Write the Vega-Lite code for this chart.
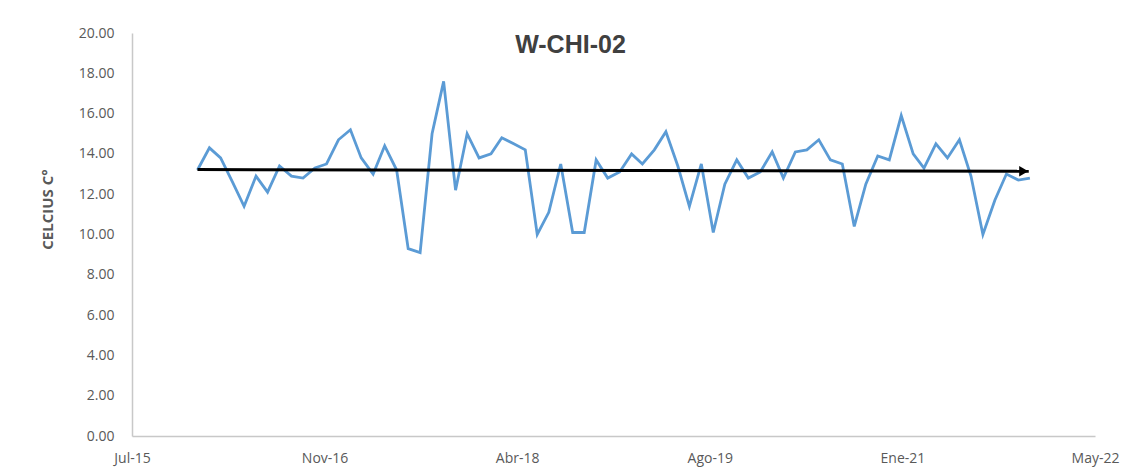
{
  "$schema": "https://vega.github.io/schema/vega-lite/v6.json",
  "autosize": "none",
  "width": 963,
  "height": 403,
  "padding": {"left": 132, "top": 33, "right": 53, "bottom": 35},
  "background": "white",
  "title": {
    "text": "W-CHI-02",
    "font": "Liberation Sans",
    "fontSize": 25,
    "fontWeight": "bold",
    "color": "#404040",
    "frame": "group",
    "anchor": "middle",
    "baseline": "bottom",
    "offset": -57,
    "dx": -43
  },
  "config": {
    "view": {"stroke": null},
    "axis": {
      "grid": false,
      "ticks": false,
      "labelFont": "Open Sans",
      "labelFontSize": 14,
      "labelColor": "#595959",
      "domainColor": "#C8C8C8",
      "domainWidth": 1.5
    }
  },
  "datasets": {
    "temps": [
      {"fecha": "2016-01-01", "temp": 13.2},
      {"fecha": "2016-02-01", "temp": 14.3},
      {"fecha": "2016-03-01", "temp": 13.8},
      {"fecha": "2016-04-01", "temp": 12.6},
      {"fecha": "2016-05-01", "temp": 11.4},
      {"fecha": "2016-06-01", "temp": 12.9},
      {"fecha": "2016-07-01", "temp": 12.1},
      {"fecha": "2016-08-01", "temp": 13.4},
      {"fecha": "2016-09-01", "temp": 12.9},
      {"fecha": "2016-10-01", "temp": 12.8},
      {"fecha": "2016-11-01", "temp": 13.3},
      {"fecha": "2016-12-01", "temp": 13.5},
      {"fecha": "2017-01-01", "temp": 14.7},
      {"fecha": "2017-02-01", "temp": 15.2},
      {"fecha": "2017-03-01", "temp": 13.8},
      {"fecha": "2017-04-01", "temp": 13.0},
      {"fecha": "2017-05-01", "temp": 14.4},
      {"fecha": "2017-06-01", "temp": 13.2},
      {"fecha": "2017-07-01", "temp": 9.3},
      {"fecha": "2017-08-01", "temp": 9.1},
      {"fecha": "2017-09-01", "temp": 15.0},
      {"fecha": "2017-10-01", "temp": 17.6},
      {"fecha": "2017-11-01", "temp": 12.2},
      {"fecha": "2017-12-01", "temp": 15.0},
      {"fecha": "2018-01-01", "temp": 13.8},
      {"fecha": "2018-02-01", "temp": 14.0},
      {"fecha": "2018-03-01", "temp": 14.8},
      {"fecha": "2018-04-01", "temp": 14.5},
      {"fecha": "2018-05-01", "temp": 14.2},
      {"fecha": "2018-06-01", "temp": 10.0},
      {"fecha": "2018-07-01", "temp": 11.1},
      {"fecha": "2018-08-01", "temp": 13.5},
      {"fecha": "2018-09-01", "temp": 10.1},
      {"fecha": "2018-10-01", "temp": 10.1},
      {"fecha": "2018-11-01", "temp": 13.7},
      {"fecha": "2018-12-01", "temp": 12.8},
      {"fecha": "2019-01-01", "temp": 13.1},
      {"fecha": "2019-02-01", "temp": 14.0},
      {"fecha": "2019-03-01", "temp": 13.5},
      {"fecha": "2019-04-01", "temp": 14.2},
      {"fecha": "2019-05-01", "temp": 15.1},
      {"fecha": "2019-06-01", "temp": 13.4},
      {"fecha": "2019-07-01", "temp": 11.4},
      {"fecha": "2019-08-01", "temp": 13.5},
      {"fecha": "2019-09-01", "temp": 10.1},
      {"fecha": "2019-10-01", "temp": 12.5},
      {"fecha": "2019-11-01", "temp": 13.7},
      {"fecha": "2019-12-01", "temp": 12.8},
      {"fecha": "2020-01-01", "temp": 13.1},
      {"fecha": "2020-02-01", "temp": 14.1},
      {"fecha": "2020-03-01", "temp": 12.8},
      {"fecha": "2020-04-01", "temp": 14.1},
      {"fecha": "2020-05-01", "temp": 14.2},
      {"fecha": "2020-06-01", "temp": 14.7},
      {"fecha": "2020-07-01", "temp": 13.7},
      {"fecha": "2020-08-01", "temp": 13.5},
      {"fecha": "2020-09-01", "temp": 10.4},
      {"fecha": "2020-10-01", "temp": 12.5},
      {"fecha": "2020-11-01", "temp": 13.9},
      {"fecha": "2020-12-01", "temp": 13.7},
      {"fecha": "2021-01-01", "temp": 15.9},
      {"fecha": "2021-02-01", "temp": 14.0},
      {"fecha": "2021-03-01", "temp": 13.3},
      {"fecha": "2021-04-01", "temp": 14.5},
      {"fecha": "2021-05-01", "temp": 13.8},
      {"fecha": "2021-06-01", "temp": 14.7},
      {"fecha": "2021-07-01", "temp": 12.9},
      {"fecha": "2021-08-01", "temp": 10.0},
      {"fecha": "2021-09-01", "temp": 11.7},
      {"fecha": "2021-10-01", "temp": 13.0},
      {"fecha": "2021-11-01", "temp": 12.7},
      {"fecha": "2021-12-01", "temp": 12.8}
    ],
    "tendencia": [
      {"fecha": "2016-01-01", "temp": 13.22, "punta": false},
      {"fecha": "2021-11-28", "temp": 13.14, "punta": true}
    ]
  },
  "encoding": {
    "x": {
      "field": "fecha",
      "type": "temporal",
      "scale": {
        "type": "utc",
        "domain": [
          {"year": 2015, "month": 7, "date": 15, "utc": true},
          {"year": 2022, "month": 5, "date": 19, "utc": true}
        ]
      },
      "axis": {
        "title": null,
        "labelPadding": 15,
        "values": [
          {"year": 2015, "month": 7, "date": 15, "utc": true},
          {"year": 2016, "month": 11, "date": 26, "utc": true},
          {"year": 2018, "month": 4, "date": 10, "utc": true},
          {"year": 2019, "month": 8, "date": 23, "utc": true},
          {"year": 2021, "month": 1, "date": 4, "utc": true},
          {"year": 2022, "month": 5, "date": 19, "utc": true}
        ],
        "labelExpr": "['Ene','Feb','Mar','Abr','May','Jun','Jul','Ago','Sep','Oct','Nov','Dic'][utcmonth(datum.value)] + '-' + utcFormat(datum.value, '%y')",
        "labelFlush": false,
        "labelOverlap": false
      }
    },
    "y": {
      "field": "temp",
      "type": "quantitative",
      "scale": {"domain": [0, 20], "nice": false, "zero": true},
      "axis": {
        "title": "CELCIUS C°",
        "titleFont": "Open Sans",
        "titleFontSize": 15,
        "titleFontWeight": "bold",
        "titleColor": "#595959",
        "titleAngle": -90,
        "titleX": -85,
        "titleY": 176,
        "titleAlign": "center",
        "titleBaseline": "middle",
        "values": [0, 2, 4, 6, 8, 10, 12, 14, 16, 18, 20],
        "format": ".2f",
        "labelPadding": 18
      }
    }
  },
  "layer": [
    {
      "data": {"name": "temps"},
      "mark": {"type": "line", "color": "#5B9BD5", "strokeWidth": 2.8, "strokeJoin": "miter"}
    },
    {
      "data": {"name": "tendencia"},
      "mark": {"type": "line", "color": "#000000", "strokeWidth": 3}
    },
    {
      "data": {"name": "tendencia"},
      "transform": [{"filter": "datum.punta"}],
      "mark": {"type": "point", "shape": "triangle-right", "filled": true, "color": "#000000", "opacity": 1, "size": 110, "xOffset": -5}
    }
  ]
}
